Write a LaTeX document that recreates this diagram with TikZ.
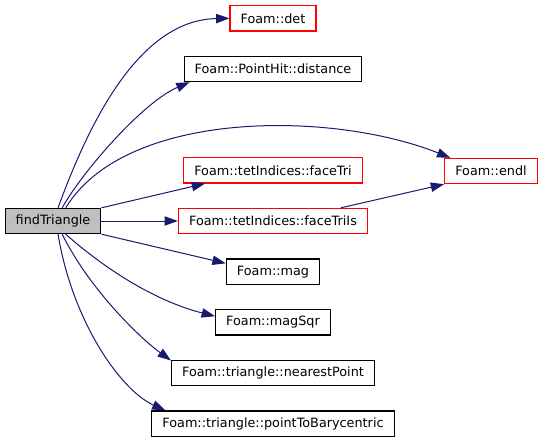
\documentclass[tikz,border=0pt]{standalone}
\usepackage{fontspec}
\setmainfont{DejaVu Sans}
\usetikzlibrary{arrows.meta,positioning}

\definecolor{edgeblue}{HTML}{191970}

\begin{document}
\begin{tikzpicture}[
        x=0.75pt, y=-0.75pt,
        node distance=38pt,
        fn/.style={rectangle, draw=black, fill=white, line width=0.8pt, inner xsep=8pt, inner ysep=0pt, minimum height=19pt, font=\fontsize{9.6}{11}\selectfont},
        trunc/.style={fn, draw=red},
        root/.style={fn, fill=black!25},
        arrow/.style={-{Triangle[length=10pt,width=7pt]}, draw=edgeblue, line width=0.75pt}
    ]
        \useasboundingbox (0,0) rectangle (544,443);
        \node[root] (find) at (53,221) {findTriangle};
        \node[trunc] (faceTriIs) at (273,221) {Foam::tetIndices::faceTriIs};
        \node[trunc, above of=faceTriIs] (faceTri) {Foam::tetIndices::faceTri};
        \node[fn, above of=faceTri, yshift=38pt] (dist) {Foam::PointHit::distance};
        \node[trunc, above of=dist] (det) {Foam::det};
        \node[fn, below of=faceTriIs] (mag) {Foam::mag};
        \node[fn, below of=mag] (magSqr) {Foam::magSqr};
        \node[fn, below of=magSqr] (nearest) {Foam::triangle::nearestPoint};
        \node[fn, below of=nearest] (toBary) {Foam::triangle::pointToBarycentric};
        \node[trunc] (endl) at (491,171) {Foam::endl};

        \draw[arrow] (find.69) .. controls (90,120) and (140,20) .. (det.west);
        \draw[arrow] (find.55) .. controls (82,172) and (143,102) .. (dist.189);
        \draw[arrow] (find.46) .. controls (125,110) and (330,110) .. (endl.162);
        \draw[arrow] (find.north east) -- (faceTri.191);
        \draw[arrow] (find) -- (faceTriIs);
        \draw[arrow] (faceTriIs.11) -- (endl.south west);
        \draw[arrow] (find.south east) -- (mag.170);
        \draw[arrow] (find.-46) .. controls (105,269) and (155,301) .. (magSqr.174);
        \draw[arrow] (find.-55) .. controls (87,285) and (136,335) .. (nearest.173);
        \draw[arrow] (find.-69) .. controls (72,320) and (120,390) .. (toBary.173);
    \end{tikzpicture}
\end{document}
